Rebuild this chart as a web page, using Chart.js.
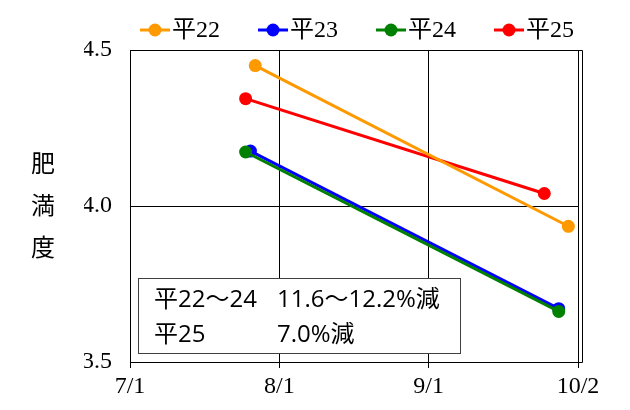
<!DOCTYPE html>
<html>
<head>
<meta charset="utf-8">
<script src="https://cdn.jsdelivr.net/npm/chart.js@4/dist/chart.umd.min.js"></script>
<style>
  html, body { margin: 0; padding: 0; background: #ffffff; }
  #wrap { width: 630px; height: 410px; }
</style>
</head>
<body>
<div id="wrap"><canvas id="c"></canvas></div>
<script>
// Fatness index, survey in late July and late September of each year
const seriesNames  = ['平22', '平23', '平24', '平25'];
const seriesColors = ['#FF9900', '#0000FF', '#008000', '#FF0000'];
const surveyDates  = [['7/27', '9/30'], ['7/26', '9/28'], ['7/25', '9/28'], ['7/25', '9/25']];
const fatness      = [[4.45, 3.935], [4.176, 3.671], [4.173, 3.662], [4.344, 4.04]];
const dateTicks    = ['7/1', '8/1', '9/1', '10/2'];
const valueTicks   = [3.5, 4.0, 4.5];
const noteRows     = [['平22～24', '11.6～12.2%減'], ['平25', '7.0%減']];
const axisTitle    = ['肥', '満', '度'];

// day number counted from 7/1
const monthStart = { 7: 0, 8: 31, 9: 62, 10: 92 };
function dayOf(s) {
  const [m, d] = s.split('/').map(Number);
  return monthStart[m] + d - 1;
}

const SERIF = '"Liberation Serif", "Noto Sans CJK JP", serif';
const SANS  = '"Open Sans", "Noto Sans CJK JP", sans-serif';
const CJK   = '"Noto Sans CJK JP", sans-serif';

const datasets = seriesNames.map((name, i) => ({
  label: name,
  data: surveyDates[i].map((d, j) => ({ x: dayOf(d), y: fatness[i][j] })),
  borderColor: seriesColors[i],
  backgroundColor: seriesColors[i],
  borderWidth: 3,
  pointRadius: 6.5,
  pointHoverRadius: 6.5,
  pointBorderWidth: 0,
  showLine: true,
  order: i === 1 ? 2 : 1
}));

// legend row: line + dot marker followed by the series name
const legendPlugin = {
  id: 'lineDotLegend',
  afterDraw(chart) {
    const ctx = chart.ctx;
    ctx.save();
    const y = 30;
    chart.data.datasets.forEach((ds, i) => {
      const x0 = 140 + i * 118;
      ctx.strokeStyle = ds.borderColor;
      ctx.lineWidth = 3;
      ctx.beginPath();
      ctx.moveTo(x0, y);
      ctx.lineTo(x0 + 30, y);
      ctx.stroke();
      ctx.fillStyle = ds.borderColor;
      ctx.beginPath();
      ctx.arc(x0 + 15, y, 6.5, 0, Math.PI * 2);
      ctx.fill();
      ctx.fillStyle = '#000';
      ctx.font = '24px ' + SERIF;
      ctx.textAlign = 'left';
      ctx.textBaseline = 'middle';
      ctx.fillText(ds.label, x0 + 32, y + 1);
    });
    ctx.restore();
  }
};

// vertical axis title, one character per line, plus the outer right frame line
const framePlugin = {
  id: 'titleAndFrame',
  afterDraw(chart) {
    const ctx = chart.ctx;
    const a = chart.chartArea;
    ctx.save();
    ctx.fillStyle = '#000';
    ctx.font = '24px ' + CJK;
    ctx.textAlign = 'center';
    ctx.textBaseline = 'middle';
    axisTitle.forEach((ch, i) => ctx.fillText(ch, 43, 163 + i * 42));

    ctx.strokeStyle = '#000';
    ctx.lineWidth = 1;
    const xr = Math.round(a.right) + 4.5;
    ctx.beginPath();
    ctx.moveTo(xr, Math.round(a.top) + 0.5);
    ctx.lineTo(xr, Math.round(a.bottom) + 0.5);
    ctx.moveTo(a.right, Math.round(a.top) + 0.5);
    ctx.lineTo(xr, Math.round(a.top) + 0.5);
    ctx.moveTo(a.right, Math.round(a.bottom) + 0.5);
    ctx.lineTo(xr, Math.round(a.bottom) + 0.5);
    ctx.stroke();
    ctx.restore();
  }
};

// note box inside the plot area
const notePlugin = {
  id: 'noteBox',
  afterDatasetsDraw(chart) {
    const ctx = chart.ctx;
    const a = chart.chartArea;
    const left = a.left + 8, top = a.top + 228, w = 322, h = 75;
    ctx.save();
    ctx.fillStyle = '#fff';
    ctx.fillRect(left, top, w, h);
    ctx.strokeStyle = '#404040';
    ctx.lineWidth = 1;
    ctx.strokeRect(left + 0.5, top + 0.5, w, h);
    ctx.fillStyle = '#000';
    ctx.font = '24px ' + SANS;
    ctx.textAlign = 'left';
    ctx.textBaseline = 'middle';
    noteRows.forEach((row, i) => {
      ctx.fillText(row[0], left + 16, top + 22 + i * 35);
      ctx.fillText(row[1], left + 139, top + 22 + i * 35);
    });
    ctx.restore();
  }
};

new Chart(document.getElementById('c'), {
  type: 'scatter',
  data: { datasets },
  options: {
    responsive: true,
    maintainAspectRatio: false,
    animation: false,
    events: [],
    layout: { padding: { left: 84, right: 52, top: 50, bottom: 0 } },
    plugins: { legend: { display: false }, tooltip: { enabled: false } },
    scales: {
      x: {
        type: 'linear',
        min: dayOf(dateTicks[0]),
        max: dayOf(dateTicks[dateTicks.length - 1]),
        afterBuildTicks: s => { s.ticks = dateTicks.map(t => ({ value: dayOf(t) })); },
        afterFit: s => { s.height = 48; },
        ticks: {
          callback: v => dateTicks.find(t => dayOf(t) === v),
          font: { family: SERIF, size: 24 },
          color: '#000',
          padding: 4,
          maxRotation: 0
        },
        grid: { color: '#000', lineWidth: 1, tickLength: 6, drawTicks: true },
        border: { color: '#000', width: 1 }
      },
      y: {
        min: valueTicks[0],
        max: valueTicks[valueTicks.length - 1],
        afterBuildTicks: s => { s.ticks = valueTicks.map(v => ({ value: v })); },
        afterFit: s => { s.width = 46; },
        ticks: {
          callback: v => v.toFixed(1),
          font: { family: SERIF, size: 24 },
          color: '#000',
          padding: 18
        },
        grid: { color: '#000', lineWidth: 1, drawTicks: false },
        border: { color: '#000', width: 1 }
      }
    }
  },
  plugins: [legendPlugin, framePlugin, notePlugin]
});
</script>
</body>
</html>
